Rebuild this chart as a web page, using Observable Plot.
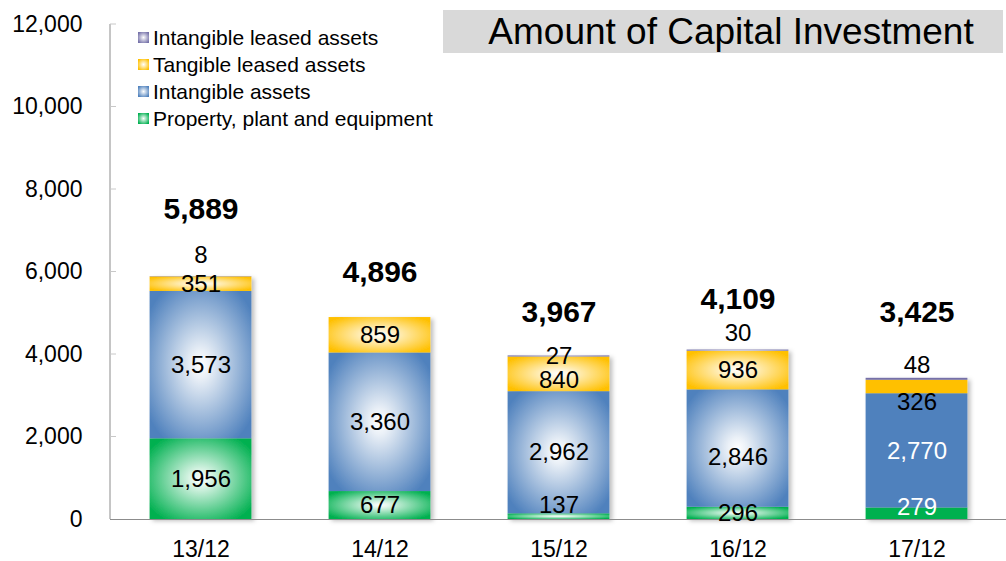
<!DOCTYPE html>
<html>
<head>
<meta charset="utf-8">
<script src="https://cdn.jsdelivr.net/npm/d3@7"></script>
<script src="https://cdn.jsdelivr.net/npm/@observablehq/plot@0.6"></script>
<style>
  html, body { margin: 0; padding: 0; background: #fff; }
  #wrap { position: relative; width: 1006px; height: 561px; font-family: "Liberation Sans", Arial, sans-serif; }
  #title { position: absolute; left: 443px; top: 10px; width: 560px; height: 43px; background: #d9d9d9;
           font-size: 37px; line-height: 43px; text-align: center; text-indent: 16px; color: #000; }
  #legend { position: absolute; left: 138px; top: 24px; font-size: 21px; line-height: 27px; color: #000; }
  .row { display: flex; align-items: center; white-space: nowrap; }
  .sw { width: 11px; height: 11px; margin-right: 4px; }
</style>
</head>
<body>
<div id="wrap">
  <div id="chart"></div>
  <div id="title">Amount of Capital Investment</div>
  <div id="legend"></div>
</div>
<script>
// ---- data ----
const categories = ["13/12", "14/12", "15/12", "16/12", "17/12"];
const seriesNames = ["Property, plant and equipment", "Intangible assets", "Tangible leased assets", "Intangible leased assets"];
const ppe = [1956, 677, 137, 296, 279];
const intangibleAssets = [3573, 3360, 2962, 2846, 2770];
const tangibleLeased = [351, 859, 840, 936, 326];
const intangibleLeased = [8, 0, 27, 30, 48];
const totals = [5889, 4896, 3967, 4109, 3425];
const yTicks = [0, 2000, 4000, 6000, 8000, 10000, 12000];

// ---- styles ----
const baseColors = ["#00b050", "#4f81bd", "#ffc000", "#7470a8"];
const gradIds = ["gPPE", "gIA", "gTL", "gIL"];
const flatCategory = "17/12"; // last bar drawn with flat colours
const seriesValues = [ppe, intangibleAssets, tangibleLeased, intangibleLeased];

// label nudges in px (style only)
const segNudge = {"13/12|3": -21, "16/12|3": -17, "17/12|3": -14, "15/12|0": -11, "15/12|2": 6,
                  "17/12|2": 15, "17/12|0": -6, "16/12|1": 9};
const totalNudge = {"13/12": -67, "14/12": -45, "15/12": -43, "16/12": -51, "17/12": -66};

// ---- build rows ----
const rows = [];
categories.forEach((c, i) => {
  let acc = 0;
  seriesValues.forEach((arr, s) => {
    const v = arr[i];
    const flat = c === flatCategory;
    rows.push({cat: c, s, value: v, y1: acc, y2: acc + v, mid: acc + v / 2,
               key: (flat ? "flat" : "grad") + s,
               textFill: (flat && (s === 0 || s === 1)) ? "white" : "black",
               dy: segNudge[c + "|" + s] || 0});
    acc += v;
  });
});
const totalRows = categories.map((c, i) => ({cat: c, total: totals[i], dy: totalNudge[c]}));

const colorDomain = [...gradIds.map((g, s) => "grad" + s), ...baseColors.map((b, s) => "flat" + s)];
const colorRange = [...gradIds.map(g => `url(#${g})`), ...baseColors];

const fmt = d3.format(",");
const labelRows = rows.filter(d => d.value > 0);
const labelGroups = d3.groups(labelRows, d => d.dy + "|" + d.textFill);
const totalGroups = d3.groups(totalRows, d => d.dy);

const marks = [
  Plot.barY(rows.filter(d => d.value > 0), {x: "cat", y1: "y1", y2: "y2", fill: "key", insetLeft: 38.6, insetRight: 38.6}),
  Plot.ruleY([0], {stroke: "#8c8c8c", strokeWidth: 1}),
  Plot.axisY({ticks: yTicks, tickFormat: fmt, tickSize: 0, tickPadding: 28, fontSize: 23, fill: "#000"}),
  Plot.axisX({tickSize: 0, tickPadding: 21, fontSize: 23, fill: "#000"}),
  ...labelGroups.map(([k, g]) => Plot.text(g, {x: "cat", y: "mid", text: d => fmt(d.value), fill: g[0].textFill,
      fontSize: 24, dy: g[0].dy})),
  ...totalGroups.map(([k, g]) => Plot.text(g, {x: "cat", y: "total", text: d => fmt(d.total), fill: "#000",
      fontSize: 30, fontWeight: "bold", dy: g[0].dy}))
];

const plot = Plot.plot({
  width: 1006,
  height: 561,
  marginLeft: 110,
  marginRight: 0,
  marginTop: 24,
  marginBottom: 42,
  style: {fontFamily: "'Liberation Sans', Arial, sans-serif", background: "transparent", color: "#000"},
  x: {domain: categories, padding: 0, label: null},
  y: {domain: [0, 12000], label: null},
  color: {type: "ordinal", domain: colorDomain, range: colorRange},
  marks
});
document.getElementById("chart").appendChild(plot);

// ---- defs: gradients and shadow ----
const svg = d3.select(plot);
const defs = svg.insert("defs", ":first-child");
gradIds.forEach((id, s) => {
  const g = defs.append("radialGradient").attr("id", id).attr("cx", "50%").attr("cy", "50%").attr("r", "62%");
  g.append("stop").attr("offset", "0%").attr("stop-color", "#ffffff");
  g.append("stop").attr("offset", "15%").attr("stop-color", d3.interpolateRgb("#ffffff", baseColors[s])(0.12));
  g.append("stop").attr("offset", "100%").attr("stop-color", baseColors[s]);
});
const f = defs.append("filter").attr("id", "shadow").attr("x", "-10%").attr("y", "-10%").attr("width", "130%").attr("height", "130%");
f.append("feDropShadow").attr("dx", 3).attr("dy", 2).attr("stdDeviation", 2).attr("flood-color", "#000").attr("flood-opacity", 0.25);
svg.select('g[aria-label="bar"]').attr("filter", "url(#shadow)");

// ---- left axis line and inward ticks from the plot's y scale ----
const ys = plot.scale("y");
const x0 = 110;
const axisG = svg.append("g");
axisG.append("line").attr("x1", x0).attr("x2", x0)
  .attr("y1", ys.apply(12000)).attr("y2", ys.apply(0)).attr("stroke", "#8c8c8c");
yTicks.filter(t => t > 0).forEach(t => {
  axisG.append("line").attr("x1", x0).attr("x2", x0 + 6).attr("y1", ys.apply(t)).attr("y2", ys.apply(t))
    .attr("stroke", "#c8c8c8");
});

// ---- legend ----
const legendOrder = [3, 2, 1, 0];
const leg = d3.select("#legend");
legendOrder.forEach(s => {
  const r = leg.append("div").attr("class", "row");
  r.append("div").attr("class", "sw")
    .style("background", `radial-gradient(circle, #ffffff 0%, ${baseColors[s]} 85%)`);
  r.append("span").text(seriesNames[s]);
});
</script>
</body>
</html>
